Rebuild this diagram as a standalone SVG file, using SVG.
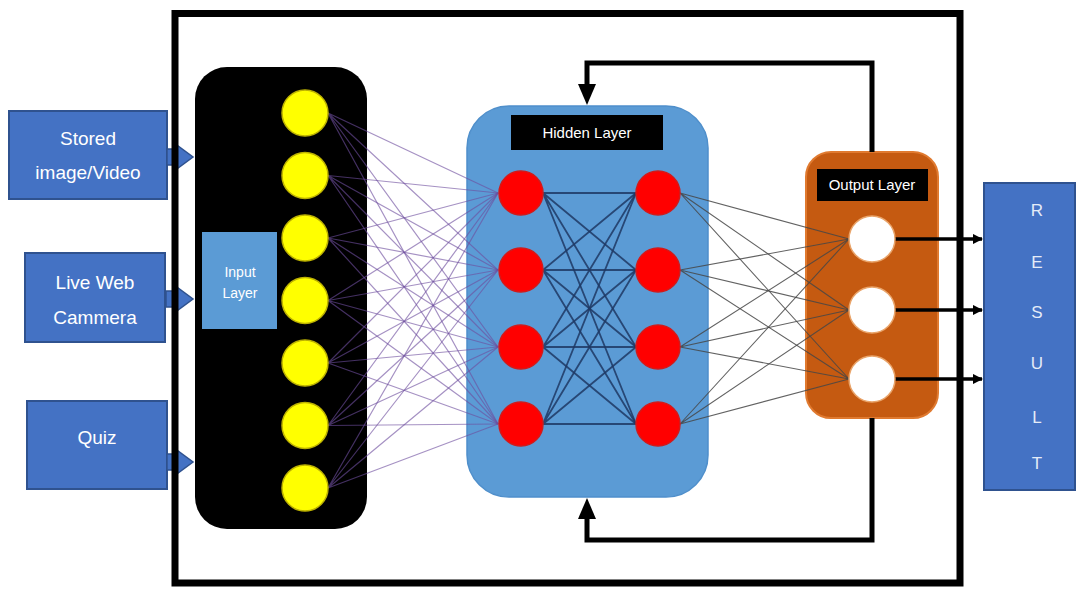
<svg xmlns="http://www.w3.org/2000/svg" width="1078" height="593" viewBox="0 0 1078 593">
  <defs>
    <style>
      .src { fill: #4472C4; stroke: #2F528F; stroke-width: 2; }
      .srctxt { font-family: "Liberation Sans", Arial, sans-serif; font-size: 19px; fill: #FFFFFF; text-anchor: middle; }
      .lbl { font-family: "Liberation Sans", Arial, sans-serif; font-size: 15px; fill: #FFFFFF; text-anchor: middle; }
      .res { font-family: "Liberation Sans", Arial, sans-serif; font-size: 17px; fill: #E4ECF8; text-anchor: middle; }
      .yel { fill: #FFFF00; stroke: #BDB200; stroke-width: 1.5; }
      .red { fill: #FF0000; stroke: #D21A1A; stroke-width: 1.5; }
      .wht { fill: #FFFFFF; stroke: #E9A46A; stroke-width: 1.5; }
      .c1 { stroke: #6E4E9E; stroke-width: 1.2; stroke-opacity: 0.62; fill: none; }
      .c2 { stroke: #1F3864; stroke-width: 1.8; stroke-opacity: 0.85; fill: none; }
      .c3 { stroke: #474747; stroke-width: 1.1; stroke-opacity: 0.85; fill: none; }
      .fb { stroke: #000000; stroke-width: 5; fill: none; }
      .out { stroke: #000000; stroke-width: 3.5; fill: none; }
      .chev { fill: #4472C4; stroke: #2F528F; stroke-width: 1.5; }
    </style>
    <marker id="headSmall" viewBox="0 0 10 10" refX="9" refY="5" markerWidth="3" markerHeight="3" orient="auto" markerUnits="strokeWidth">
      <path d="M0,0 L10,5 L0,10 Z" fill="#000"/>
    </marker>
  </defs>

  <rect width="1078" height="593" fill="#FFFFFF"/>

  <!-- source boxes -->
  <g id="stored-video">
    <rect class="src" x="9" y="111" width="158" height="88"/>
    <text class="srctxt" x="88" y="145">Stored</text>
    <text class="srctxt" x="88" y="179">image/Video</text>
    <path class="chev" d="M167,149 L174,149 L174,143 L193,157 L174,171 L174,165 L167,165 Z"/>
  </g>
  <g id="live-webcam">
    <rect class="src" x="25" y="253" width="140" height="89"/>
    <text class="srctxt" x="95" y="289">Live Web</text>
    <text class="srctxt" x="95" y="324">Cammera</text>
    <path class="chev" d="M166,291 L174,291 L174,285 L193,299 L174,313 L174,307 L166,307 Z"/>
  </g>
  <g id="quiz">
    <rect class="src" x="27" y="401" width="140" height="88"/>
    <text class="srctxt" x="97" y="444">Quiz</text>
    <path class="chev" d="M167,454 L174,454 L174,448 L193,462 L174,476 L174,470 L167,470 Z"/>
  </g>

  <!-- outer system frame -->
  <rect x="175" y="13.5" width="785" height="569.5" fill="none" stroke="#000" stroke-width="7"/>

  <!-- layer panels -->
  <g id="input-layer">
    <rect x="195" y="67" width="172" height="462" rx="32" fill="#000000"/>
    <rect x="202" y="232" width="75" height="97" fill="#5B9BD5"/>
    <text class="lbl" x="240" y="277" style="font-size:14px" fill="#E8EEF8">Input</text>
    <text class="lbl" x="240" y="298" style="font-size:14px" fill="#E8EEF8">Layer</text>
  </g>
  <g id="hidden-layer">
    <rect x="467" y="106" width="241" height="391" rx="42" fill="#5B9BD5" stroke="#4F8FCB" stroke-width="1.5"/>
    <rect x="511" y="115" width="152" height="35" fill="#000000"/>
    <text class="lbl" x="587" y="138">Hidden Layer</text>
  </g>
  <g id="output-layer">
    <rect x="806" y="152" width="132" height="266" rx="25" fill="#C55A11" stroke="#E07A30" stroke-width="2"/>
    <rect x="817" y="169" width="111" height="32" fill="#000000"/>
    <text class="lbl" x="872" y="190">Output Layer</text>
  </g>
  <g id="result">
    <rect class="src" x="984" y="183" width="91" height="307"/>
    <text class="res" x="1037" y="216">R</text>
    <text class="res" x="1037" y="268">E</text>
    <text class="res" x="1037" y="318">S</text>
    <text class="res" x="1037" y="369">U</text>
    <text class="res" x="1037" y="423">L</text>
    <text class="res" x="1037" y="469">T</text>
  </g>

  <!-- connectors -->
  <g id="connectors">
    <!-- input -> hidden 1 -->
    <g class="c1">
      <path d="M328,113 L498,193 M328,113 L498,270 M328,113 L498,347 M328,113 L498,424"/>
      <path d="M328,175.5 L498,193 M328,175.5 L498,270 M328,175.5 L498,347 M328,175.5 L498,424"/>
      <path d="M328,238 L498,193 M328,238 L498,270 M328,238 L498,347 M328,238 L498,424"/>
      <path d="M328,300.5 L498,193 M328,300.5 L498,270 M328,300.5 L498,347 M328,300.5 L498,424"/>
      <path d="M328,363 L498,193 M328,363 L498,270 M328,363 L498,347 M328,363 L498,424"/>
      <path d="M328,425.5 L498,193 M328,425.5 L498,270 M328,425.5 L498,347 M328,425.5 L498,424"/>
      <path d="M328,488 L498,193 M328,488 L498,270 M328,488 L498,347 M328,488 L498,424"/>
    </g>
    <!-- hidden 1 -> hidden 2 -->
    <g class="c2">
      <path d="M543,193 L636,193 M543,193 L636,270 M543,193 L636,347 M543,193 L636,424"/>
      <path d="M543,270 L636,193 M543,270 L636,270 M543,270 L636,347 M543,270 L636,424"/>
      <path d="M543,347 L636,193 M543,347 L636,270 M543,347 L636,347 M543,347 L636,424"/>
      <path d="M543,424 L636,193 M543,424 L636,270 M543,424 L636,347 M543,424 L636,424"/>
    </g>
    <!-- hidden 2 -> output -->
    <g class="c3">
      <path d="M680,193 L849,239 M680,193 L849,310 M680,193 L849,379"/>
      <path d="M680,270 L849,239 M680,270 L849,310 M680,270 L849,379"/>
      <path d="M680,347 L849,239 M680,347 L849,310 M680,347 L849,379"/>
      <path d="M680,424 L849,239 M680,424 L849,310 M680,424 L849,379"/>
    </g>
    <!-- feedback loops -->
    <path class="fb" d="M872,152 L872,63 L587,63 L587,86"/>
    <path d="M578,84 L596,84 L587,105 Z" fill="#000"/>
    <path class="fb" d="M872,418 L872,540 L587,540 L587,517"/>
    <path d="M578,519 L596,519 L587,498 Z" fill="#000"/>
    <!-- outputs -> result -->
    <path class="out" d="M895,239 L982,239" marker-end="url(#headSmall)"/>
    <path class="out" d="M895,310 L982,310" marker-end="url(#headSmall)"/>
    <path class="out" d="M895,379 L982,379" marker-end="url(#headSmall)"/>
  </g>

  <!-- neurons -->
  <g id="input-neurons">
    <circle class="yel" cx="305" cy="113" r="23"/>
    <circle class="yel" cx="305" cy="175.5" r="23"/>
    <circle class="yel" cx="305" cy="238" r="23"/>
    <circle class="yel" cx="305" cy="300.5" r="23"/>
    <circle class="yel" cx="305" cy="363" r="23"/>
    <circle class="yel" cx="305" cy="425.5" r="23"/>
    <circle class="yel" cx="305" cy="488" r="23"/>
  </g>
  <g id="hidden-neurons">
    <circle class="red" cx="521" cy="193" r="22"/>
    <circle class="red" cx="521" cy="270" r="22"/>
    <circle class="red" cx="521" cy="347" r="22"/>
    <circle class="red" cx="521" cy="424" r="22"/>
    <circle class="red" cx="658" cy="193" r="22"/>
    <circle class="red" cx="658" cy="270" r="22"/>
    <circle class="red" cx="658" cy="347" r="22"/>
    <circle class="red" cx="658" cy="424" r="22"/>
  </g>
  <g id="output-neurons">
    <circle class="wht" cx="872" cy="239" r="23"/>
    <circle class="wht" cx="872" cy="310" r="23"/>
    <circle class="wht" cx="872" cy="379" r="23"/>
  </g>
</svg>
